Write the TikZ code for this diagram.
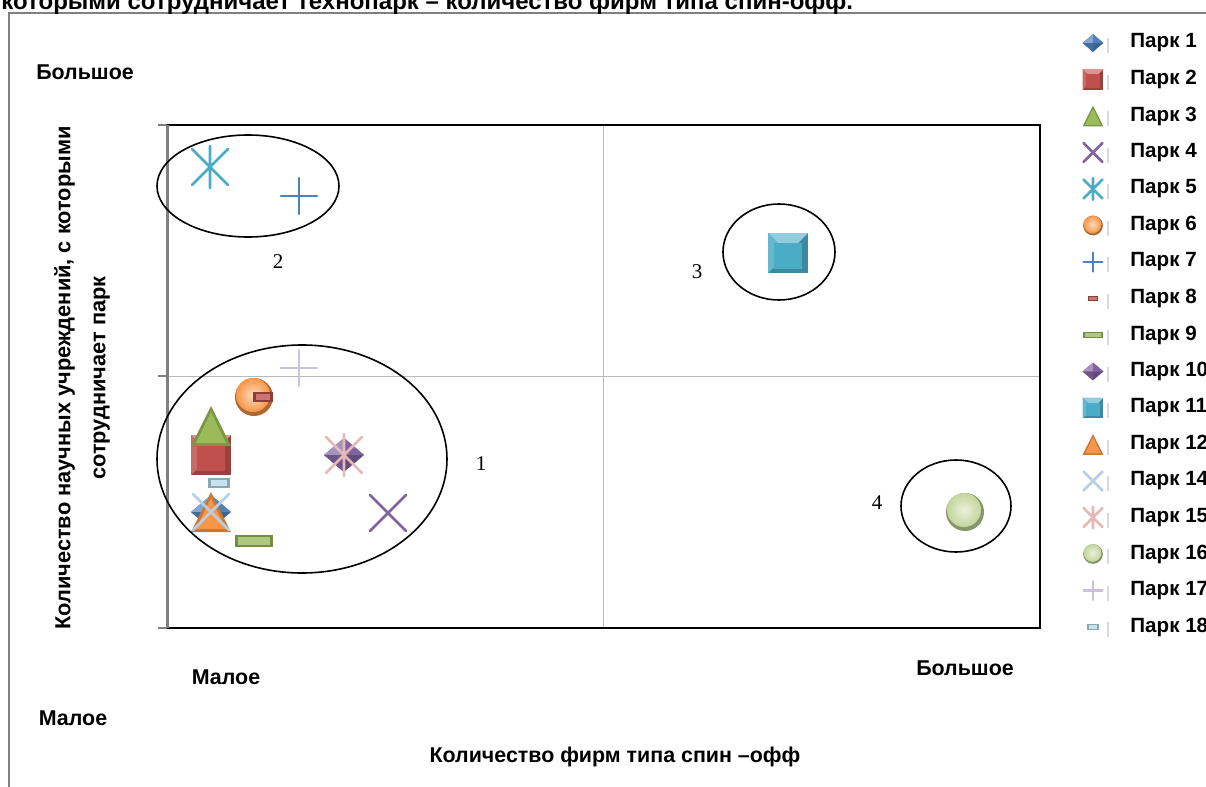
\documentclass[tikz,border=0pt]{standalone}
\usepackage{fontspec}
\setmainfont{Liberation Sans}
\newfontfamily\numfont{Liberation Serif}
\definecolor{parkblue}{HTML}{4F81BD}
\definecolor{parkred}{HTML}{C0504D}
\definecolor{parkgreen}{HTML}{9BBB59}
\definecolor{parkpurple}{HTML}{8064A2}
\definecolor{parkteal}{HTML}{4BACC6}
\definecolor{parkorange}{HTML}{F79646}
\definecolor{parklblue}{HTML}{B9CDE5}
\definecolor{parkpink}{HTML}{E6B9B8}
\definecolor{parklgreen}{HTML}{C3D69B}
\definecolor{parklpurple}{HTML}{CCC1DA}
\definecolor{parkcyan}{HTML}{B7DEE8}
% marker shapes
\newcommand{\mkdiamond}[1]{%
  \fill[#1!75!black] (-20,0) -- (0,-17) -- (20,0) -- (0,17) -- cycle;
  \fill[#1!70!white] (-20,0) -- (0,-17) -- (0,0) -- cycle;
  \fill[#1] (0,-17) -- (20,0) -- (0,0) -- cycle;
  \fill[#1!85!black] (-20,0) -- (0,0) -- (0,17) -- cycle;}
\newcommand{\mksquare}[1]{%
  \fill[#1!80!black] (-20,-20) rectangle (20,20);
  \fill[#1!60!white] (-20,-20) -- (20,-20) -- (0,0) -- cycle;
  \fill[#1!85!white] (-20,-20) -- (0,0) -- (-20,20) -- cycle;
  \fill[#1] (-14,-10) rectangle (14,16);}
\newcommand{\mktri}[1]{%
  \fill[#1!80!black] (0,-20) -- (20,20) -- (-20,20) -- cycle;
  \fill[#1] (0,-14) -- (15,17) -- (-15,17) -- cycle;}
\newcommand{\mkbar}[3]{%
  \fill[#1!75!black] (-#2,-#3) rectangle (#2,#3);
  \fill[#1!80!white] (-#2+3,-#3+2) rectangle (#2-3,#3-2);}
\newcommand{\mkball}[1]{%
  \fill[#1!70!black] (0,0) circle (19);
  \shade[inner color=#1!35!white, outer color=#1] (-1,-2) circle (17);}
\newcommand{\mkcross}[1]{\draw[mkline,#1] (-18,-18) -- (18,18) (-18,18) -- (18,-18);}
\newcommand{\mkstar}[1]{\draw[mkline,#1] (-18,-18) -- (18,18) (-18,18) -- (18,-18) (0,-21) -- (0,21);}
\newcommand{\mkplus}[1]{\draw[mkline,#1] (-18,0) -- (18,0) (0,-18) -- (0,18);}
\tikzset{
  lbl/.style={font=\fontsize{10.3}{12}\selectfont\bfseries, inner sep=0pt},
  axlbl/.style={font=\fontsize{10.7}{17.5}\selectfont\bfseries, inner sep=0pt},
  grpnum/.style={font=\numfont\fontsize{10.5}{12}\selectfont, inner sep=0pt},
  grp/.style={draw=black, line width=0.8pt},
  mkline/.style={line width=1.3pt, line cap=round},
  pics/park1/.style={code={\mkdiamond{parkblue}}},
  pics/park2/.style={code={\mksquare{parkred}}},
  pics/park3/.style={code={\mktri{parkgreen}}},
  pics/park4/.style={code={\mkcross{parkpurple}}},
  pics/park5/.style={code={\mkstar{parkteal}}},
  pics/park6/.style={code={\mkball{parkorange}}},
  pics/park7/.style={code={\mkplus{parkblue}}},
  pics/park8/.style={code={\mkbar{parkred}{10}{5}}},
  pics/park9/.style={code={\mkbar{parkgreen}{19}{6}}},
  pics/park10/.style={code={\mkdiamond{parkpurple}}},
  pics/park11/.style={code={\mksquare{parkteal}}},
  pics/park12/.style={code={\mktri{parkorange}}},
  pics/park14/.style={code={\mkcross{parklblue}}},
  pics/park15/.style={code={\mkstar{parkpink}}},
  pics/park16/.style={code={\mkball{parklgreen}}},
  pics/park17/.style={code={\mkplus{parklpurple}}},
  pics/park18/.style={code={\mkbar{parkcyan}{11}{5}}},
}
\begin{document}
\begin{tikzpicture}[x=0.5pt,y=-0.5pt]
  \useasboundingbox (0,0) rectangle (1206,787);
  \fill[white] (0,0) rectangle (1206,787);
  % frame and title
  \draw[gray, line width=0.8pt] (9,787) -- (9,13) -- (1206,13);
  \node[lbl, font=\fontsize{12}{14}\selectfont\bfseries, anchor=base west] (title) at (1,10)
    {которыми сотрудничает технопарк – количество фирм типа спин-офф.};
  % plot area
  \draw[gray!55] (603,125) -- (603,628) (167,376) -- (1040,376);
  \draw[black, line width=1.2pt] (167,125) -- (1040,125) -- (1040,628) -- (167,628);
  \draw[gray, line width=1.5pt] (167,125) -- (167,628);
  \foreach \t in {125,376,628} \draw[gray, line width=0.8pt] (158,\t) -- (167,\t);
  % axis labels
  \node[axlbl] (bigY) at (85,72) {Большое};
  \node[axlbl] (smallY) at (73,718) {Малое};
  \node[axlbl] (smallX) at (226,677) {Малое};
  \node[axlbl] (bigX) at (965,668) {Большое};
  \node[axlbl] (xtitle) at (615,757) {Количество фирм типа спин –офф};
  \node[axlbl, font=\fontsize{10.9}{17.5}\selectfont\bfseries, rotate=90, align=center] (ytitle) at (82,378)
    {Количество научных учреждений, с которыми\\сотрудничает парк};
  % parks
  \pic at (211,512) {park1};
  \pic at (211,455) {park2};
  \pic at (211,426) {park3};
  \pic at (388,513) {park4};
  \pic at (210,167) {park5};
  \pic at (254,397) {park6};
  \pic at (299,196) {park7};
  \pic at (263,397) {park8};
  \pic at (254,541) {park9};
  \pic at (344,455) {park10};
  \pic at (788,253) {park11};
  \pic at (211,512) {park12};
  \pic at (211,512) {park14};
  \pic at (344,455) {park15};
  \pic at (965,512) {park16};
  \pic at (299,368) {park17};
  \pic at (219,483) {park18};
  % groups
  \draw[grp] (302,459) ellipse [x radius=145, y radius=114];
  \draw[grp] (248,186) ellipse [x radius=91, y radius=51];
  \draw[grp] (779,252) ellipse [x radius=56, y radius=48];
  \draw[grp] (956,506) ellipse [x radius=55, y radius=46];
  \node[grpnum] (g1) at (481,464) {1};
  \node[grpnum] (g2) at (278,262) {2};
  \node[grpnum] (g3) at (697,272) {3};
  \node[grpnum] (g4) at (877,503) {4};
  % legend
  \foreach \n [count=\k from 0] in {1,...,12,14,15,16,17,18} {
    \pic[scale=0.52] at (1093,43+36.5*\k) {park\n};
    \draw[gray!30, line width=0.6pt] (1108,38+36.5*\k) -- (1108,53+36.5*\k);
    \node[lbl, anchor=west] (leg\n) at (1130,43+36.5*\k) {Парк \n};
  }
\end{tikzpicture}
\end{document}
